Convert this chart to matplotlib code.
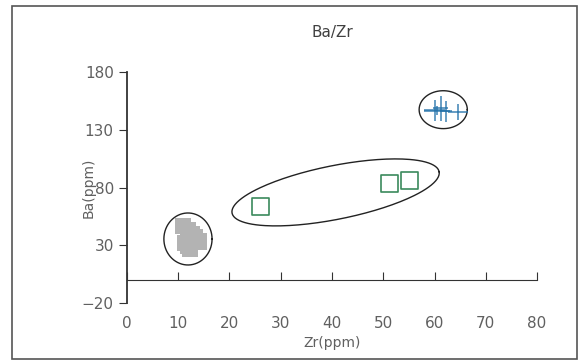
import numpy as np
import matplotlib.pyplot as plt
from matplotlib.patches import Rectangle

# data
gray_x = [10.9, 11.9, 12.6, 13.3, 14.0, 11.3, 12.3, 12.0]
gray_y = [46.5, 43.0, 40.0, 37.0, 33.5, 32.0, 27.0, 30.0]
green_x = [26.1, 51.3, 55.2]
green_y = [63.8, 83.6, 86.2]
blue_x = [60.0, 61.2, 62.3, 64.6, 60.5]
blue_y = [147.0, 148.5, 146.0, 145.5, 146.5]
blue_xerr = [2.0, 1.5, 1.2, 2.0, 2.5]
blue_yerr = [9.0, 11.0, 9.0, 7.0, 4.0]
xticks = [0, 10, 20, 30, 40, 50, 60, 70, 80]
yticks = [-20, 30, 80, 130, 180]

# ellipses: centre, two half-axis vectors in data units
ell_gray = ((11.9, 35.5), (4.7, 0.0), (0.0, 22.5))
ell_green = ((40.7, 75.8), (20.2, 17.9), (1.0, -22.8))
ell_blue = ((61.7, 147.4), (4.7, 0.0), (0.0, 16.4))

txt = '#606060'
fig = plt.figure(figsize=(5.79, 3.6), dpi=100)
ax = fig.add_axes([0.2193, 0.158, 0.7082, 0.642])

ax.scatter(gray_x, gray_y, marker='s', s=140, color='#b3b3b3', edgecolors='none', zorder=3)
ax.scatter(green_x, green_y, marker='s', s=150, facecolors='none',
           edgecolors='#3b8a5c', linewidths=1.2, zorder=3)
ax.errorbar(blue_x, blue_y, xerr=blue_xerr, yerr=blue_yerr, fmt='none',
            ecolor='#1f6fa8', elinewidth=1.2, alpha=0.8, zorder=3)

t = np.linspace(0, 2 * np.pi, 200)
for (c, u, v) in [ell_gray, ell_green, ell_blue]:
    ex = c[0] + u[0] * np.cos(t) + v[0] * np.sin(t)
    ey = c[1] + u[1] * np.cos(t) + v[1] * np.sin(t)
    ax.plot(ex, ey, color='#222222', lw=1.0, zorder=2)

ax.set_xlim(0, 80)
ax.set_ylim(-20, 180)
ax.spines['top'].set_visible(False)
ax.spines['right'].set_visible(False)
ax.spines['bottom'].set_position(('data', 0))
ax.spines['left'].set_color('#333333')
ax.spines['bottom'].set_color('#333333')
ax.spines['left'].set_linewidth(1.3)
ax.set_xticks(xticks)
ax.tick_params(axis='x', direction='in', length=6, labelbottom=False, color='#333333')
ax.set_yticks(yticks)
ax.tick_params(axis='y', direction='out', length=6, labelsize=11, labelcolor=txt, color='#333333')
ax.set_yticklabels(['\u221220', '30', '80', '130', '180'])

sec = ax.secondary_xaxis('bottom')
sec.set_xticks(xticks)
sec.tick_params(length=0, labelsize=11, labelcolor=txt, pad=9)
sec.spines['bottom'].set_visible(False)
sec.set_xlabel('Zr(ppm)', color=txt, fontsize=10, labelpad=4)

ax.set_ylabel('Ba(ppm)', color=txt, fontsize=10, labelpad=-10)
ax.set_title('Ba/Zr', color='#404040', fontsize=11, pad=25)

fig.patches.append(Rectangle((12 / 579, 0.003), 0.975, 0.98, transform=fig.transFigure,
                             fill=False, edgecolor='#555555', lw=1.2))

fig.savefig('out.png', dpi=100)
